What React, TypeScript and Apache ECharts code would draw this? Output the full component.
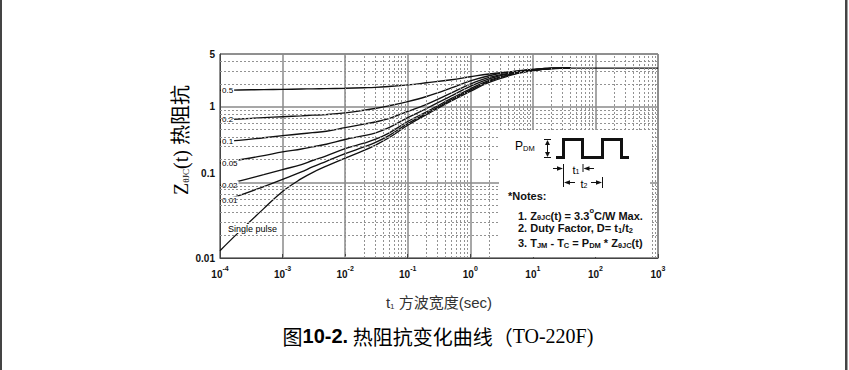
import React, { useEffect, useRef } from "react";
import * as echarts from "echarts";

// pulse width t1 (sec)
const times = [1e-4, 2e-4, 5e-4, 1e-3, 2e-3, 3e-3, 5e-3, 1e-2, 2e-2, 3e-2, 5e-2, 1e-1, 2e-1, 5e-1, 1, 2, 5, 10, 20, 40];
// normalized thermal impedance for each duty factor
const d05 = [1.65, 1.67, 1.69, 1.7, 1.72, 1.73, 1.74, 1.76, 1.79, 1.81, 1.86, 1.95, 2.08, 2.28, 2.5, 2.72, 2.93, 3.12, 3.24, 3.25];
const d02 = [0.67, 0.69, 0.72, 0.74, 0.76, 0.775, 0.79, 0.83, 0.9, 0.95, 1.03, 1.17, 1.37, 1.78, 2.2, 2.58, 2.95, 3.13, 3.24, 3.25];
const d01 = [0.343, 0.36, 0.39, 0.415, 0.44, 0.455, 0.475, 0.53, 0.59, 0.63, 0.7, 0.87, 1.08, 1.53, 2.0, 2.45, 2.88, 3.1, 3.23, 3.25];
const d005 = [0.18, 0.198, 0.226, 0.253, 0.277, 0.295, 0.32, 0.37, 0.415, 0.45, 0.53, 0.72, 0.95, 1.4, 1.86, 2.35, 2.83, 3.07, 3.22, 3.25];
const d002 = [0.091, 0.104, 0.127, 0.148, 0.172, 0.195, 0.225, 0.28, 0.33, 0.37, 0.45, 0.64, 0.86, 1.29, 1.73, 2.24, 2.77, 3.04, 3.21, 3.25];
const d001 = [0.057, 0.067, 0.088, 0.11, 0.138, 0.16, 0.19, 0.24, 0.295, 0.335, 0.415, 0.6, 0.82, 1.24, 1.66, 2.17, 2.73, 3.02, 3.2, 3.25];
const single = [0.0125, 0.022, 0.045, 0.076, 0.112, 0.135, 0.164, 0.21, 0.265, 0.31, 0.39, 0.57, 0.79, 1.2, 1.6, 2.1, 2.68, 3.0, 3.2, 3.25];
// steady-state tail
const tailTimes = [40, 100, 1000];
const tailValues = [3.25, 3.25, 3.25];

const curveNames = ["0.5", "0.2", "0.1", "0.05", "0.02", "0.01", "Single pulse"];
const curveValues = [d05, d02, d01, d005, d002, d001, single];

// gridline positions
const minorFactors = [2, 3, 4, 5, 6, 7, 8, 9];
const xDecades = [1e-4, 1e-3, 1e-2, 1e-1, 1, 10, 100];
const yDecades = [0.01, 0.1, 1];

const SANS = "'Liberation Sans', Arial, 'Noto Sans CJK SC', sans-serif";
const SERIF = "'Liberation Serif', 'Times New Roman', 'Noto Sans CJK SC', serif";
const INK = "#111";

function buildOption() {
  const xMinor: number[] = [];
  xDecades.forEach((d) => minorFactors.forEach((f) => xMinor.push(d * f)));
  const yMinor: number[] = [];
  yDecades.forEach((d) => minorFactors.forEach((f) => { if (d * f < 5) yMinor.push(d * f); }));

  const curveSeries = curveNames.map((name, ci) => ({
    type: "line",
    name,
    z: 3,
    silent: true,
    smooth: 0.4,
    showSymbol: true,
    symbol: "circle",
    symbolSize: 0,
    lineStyle: { color: INK, width: 1.35 },
    label: {
      show: false,
      formatter: name,
      position: "right",
      distance: 1,
      fontSize: 8,
      fontFamily: SANS,
      color: "#000",
      backgroundColor: "#fff",
      padding: [1, 1, 0, 1],
    },
    data: times.map((t, i) =>
      i === 0 && ci < 6
        ? { value: [t, curveValues[ci][i]], label: { show: true } }
        : [t, curveValues[ci][i]]
    ),
  }));

  const gridSeries = {
    type: "line",
    name: "grid",
    z: 1,
    silent: true,
    symbolSize: 0,
    lineStyle: { opacity: 0 },
    data: [[1e-4, 0.01]],
    markLine: {
      silent: true,
      symbol: ["none", "none"],
      label: { show: false },
      lineStyle: { color: "#929292", type: [2, 2], width: 1 },
      data: [...xMinor.map((v) => ({ xAxis: v })), ...yMinor.map((v) => ({ yAxis: v }))],
    },
  };

  const tailSeries = {
    type: "line",
    name: "steady",
    z: 3,
    silent: true,
    showSymbol: false,
    lineStyle: { color: INK, width: 1.35 },
    data: tailTimes.map((t, i) => [t, tailValues[i]]),
  };

  const noteLine = (txt: string, top: number, left: number) => ({
    type: "text",
    left,
    top,
    z: 20,
    style: {
      text: txt,
      fill: INK,
      font: `bold 11px ${SANS}`,
      rich: {
        n: { fontSize: 11, fontWeight: "bold", fontFamily: SANS, color: INK, lineHeight: 14, verticalAlign: "bottom" },
        s: { fontSize: 7.5, fontWeight: "bold", fontFamily: SANS, color: INK, lineHeight: 9, verticalAlign: "bottom" },
        p: { fontSize: 7.5, fontWeight: "bold", fontFamily: SANS, color: INK, lineHeight: 14, verticalAlign: "top" },
      },
    },
  });

  const tri = (pts: number[][]) => ({ type: "polygon", z: 20, shape: { points: pts }, style: { fill: INK } });
  const seg = (x1: number, y1: number, x2: number, y2: number, w = 1) => ({
    type: "line", z: 20, shape: { x1, y1, x2, y2 }, style: { stroke: INK, lineWidth: w },
  });

  return {
    animation: false,
    backgroundColor: "#fff",
    grid: { left: 220, right: 191, top: 54, bottom: 112, show: true, borderColor: "#444", borderWidth: 1 },
    xAxis: {
      type: "log",
      logBase: 10,
      min: 1e-4,
      max: 1000,
      axisLine: { lineStyle: { color: "#444", width: 1 } },
      axisTick: { inside: true, length: 4, lineStyle: { color: "#444" } },
      splitLine: { show: true, lineStyle: { color: "#8a8a8a", width: 1.5 } },
      axisLabel: {
        margin: 7,
        formatter: (v: number) => `{b|10}{s|${Math.round(Math.log10(v))}}`,
        rich: {
          b: { fontSize: 10, fontWeight: "bold", fontFamily: SANS, color: INK, lineHeight: 14, verticalAlign: "bottom" },
          s: { fontSize: 7, fontWeight: "bold", fontFamily: SANS, color: INK, lineHeight: 8, verticalAlign: "top" },
        },
      },
      name: "{a|t}{s|1}{a| 方波宽度(sec)}",
      nameLocation: "middle",
      nameGap: 34,
      nameTextStyle: {
        rich: {
          a: { fontSize: 15, fontFamily: SANS, color: "#333", lineHeight: 18, verticalAlign: "bottom" },
          s: { fontSize: 8, fontFamily: SANS, color: "#333", lineHeight: 10, verticalAlign: "bottom" },
        },
      },
    },
    yAxis: {
      type: "log",
      logBase: 10,
      min: 0.01,
      max: 5,
      axisLine: { show: true, lineStyle: { color: "#444", width: 1 } },
      axisTick: { show: false },
      splitLine: { show: true, lineStyle: { color: "#8a8a8a", width: 1.5 } },
      axisLabel: {
        margin: 5,
        formatter: (v: number) => {
          const s = String(Number(v.toPrecision(3)));
          return s === "0.1" ? `{u|${s}}` : `{l|${s}}`;
        },
        rich: {
          l: { fontSize: 10, fontWeight: "bold", fontFamily: SANS, color: INK },
          u: { fontSize: 10, fontWeight: "bold", fontFamily: SANS, color: INK, padding: [0, 0, 18, 0] },
        },
      },
    },
    series: [gridSeries, ...curveSeries, tailSeries],
    graphic: [
      // page borders
      { type: "rect", z: 30, shape: { x: 0, y: 0, width: 2, height: 370 }, style: { fill: "#444" } },
      { type: "rect", z: 30, shape: { x: 845, y: 0, width: 2.5, height: 370 }, style: { fill: "#444" } },
      // y-axis title
      {
        type: "text",
        x: 180,
        y: 140,
        rotation: Math.PI / 2,
        z: 20,
        style: {
          text: "{a|Z}{s|θJC}{a|(t) 热阻抗}",
          align: "center",
          verticalAlign: "middle",
          rich: {
            a: { fontSize: 20, fontFamily: SERIF, color: "#3a3a3a", lineHeight: 22, verticalAlign: "bottom" },
            s: { fontSize: 9, fontFamily: SERIF, color: "#3a3a3a", lineHeight: 14, verticalAlign: "bottom" },
          },
        },
      },
      // Single pulse label
      {
        type: "text",
        left: 227,
        top: 224,
        z: 20,
        style: { text: "Single pulse", font: `9px ${SANS}`, fill: "#000", backgroundColor: "#fff", padding: [0, 1] },
      },
      // notes box
      { type: "rect", z: 15, shape: { x: 499, y: 130, width: 151, height: 127 }, style: { fill: "#fff" } },
      // P_DM
      {
        type: "text",
        left: 515,
        top: 140,
        z: 20,
        style: {
          text: "{a|P}{s|DM}",
          rich: {
            a: { fontSize: 12, fontFamily: SANS, color: INK, lineHeight: 15, verticalAlign: "bottom" },
            s: { fontSize: 7.5, fontFamily: SANS, color: INK, lineHeight: 9, verticalAlign: "bottom" },
          },
        },
      },
      seg(544, 139.5, 551, 139.5),
      seg(544, 157.5, 551, 157.5),
      seg(547.5, 143, 547.5, 154),
      tri([[547.5, 140], [545, 145], [550, 145]]),
      tri([[547.5, 157], [545, 152], [550, 152]]),
      // square wave
      {
        type: "polyline",
        z: 20,
        shape: {
          points: [[556, 157.5], [563.5, 157.5], [563.5, 139.5], [582.5, 139.5], [582.5, 157.5], [602.5, 157.5], [602.5, 139.5], [621.5, 139.5], [621.5, 157.5], [629, 157.5]],
        },
        style: { stroke: INK, lineWidth: 3, fill: null, lineJoin: "miter" },
      },
      // t1 dimension
      seg(553, 168.5, 558, 168.5),
      tri([[563, 168.5], [557, 166.3], [557, 170.7]]),
      seg(563.5, 164, 563.5, 187),
      seg(583, 164, 583, 172),
      tri([[583.5, 168.5], [589.5, 166.3], [589.5, 170.7]]),
      seg(589, 168.5, 594, 168.5),
      {
        type: "text",
        x: 576,
        y: 168.5,
        z: 20,
        style: {
          text: "{a|t}{s|1}",
          align: "center",
          verticalAlign: "middle",
          rich: {
            a: { fontSize: 11, fontFamily: SANS, color: INK, lineHeight: 13, verticalAlign: "bottom" },
            s: { fontSize: 7, fontFamily: SANS, color: INK, lineHeight: 8, verticalAlign: "bottom" },
          },
        },
      },
      // t2 dimension
      tri([[564, 182.5], [570, 180.3], [570, 184.7]]),
      seg(570, 182.5, 575, 182.5),
      tri([[602, 182.5], [596, 180.3], [596, 184.7]]),
      seg(591, 182.5, 596, 182.5),
      seg(602.5, 177, 602.5, 188),
      {
        type: "text",
        x: 584,
        y: 182.5,
        z: 20,
        style: {
          text: "{a|t}{s|2}",
          align: "center",
          verticalAlign: "middle",
          rich: {
            a: { fontSize: 11, fontFamily: SANS, color: INK, lineHeight: 13, verticalAlign: "bottom" },
            s: { fontSize: 7, fontFamily: SANS, color: INK, lineHeight: 8, verticalAlign: "bottom" },
          },
        },
      },
      // notes
      {
        type: "text",
        left: 508,
        top: 190,
        z: 20,
        style: { text: "*Notes:", font: `bold 11px ${SANS}`, fill: INK },
      },
      noteLine("{n|1. Z}{s|θJC}{n|(t) = 3.3}{p|o}{n|C/W Max.}", 207, 518),
      noteLine("{n|2. Duty Factor, D= t}{s|1}{n|/t}{s|2}", 223, 518),
      noteLine("{n|3. T}{s|JM}{n| - T}{s|C}{n| = P}{s|DM}{n| * Z}{s|θJC}{n|(t)}", 238, 518),
      // caption
      {
        type: "text",
        x: 438,
        y: 336,
        z: 20,
        style: {
          text: "{c|图}{b|10-2.}{c| 热阻抗变化曲线（}{r|TO-220F)}",
          align: "center",
          verticalAlign: "middle",
          rich: {
            c: { fontSize: 20, fontFamily: "'Noto Sans CJK SC', sans-serif", color: "#333" },
            b: { fontSize: 20, fontWeight: "bold", fontFamily: SANS, color: "#333" },
            r: { fontSize: 20, fontFamily: SERIF, color: "#333" },
          },
        },
      },
    ],
  };
}

export default function App() {
  const ref = useRef<HTMLDivElement>(null);
  useEffect(() => {
    if (!ref.current) return;
    const chart = echarts.init(ref.current, null, { renderer: "svg" });
    chart.setOption(buildOption() as any);
    return () => chart.dispose();
  }, []);
  return (
    <div
      ref={ref}
      style={{ position: "fixed", left: 0, top: 0, width: 849, height: 370, background: "#fff" }}
    />
  );
}
